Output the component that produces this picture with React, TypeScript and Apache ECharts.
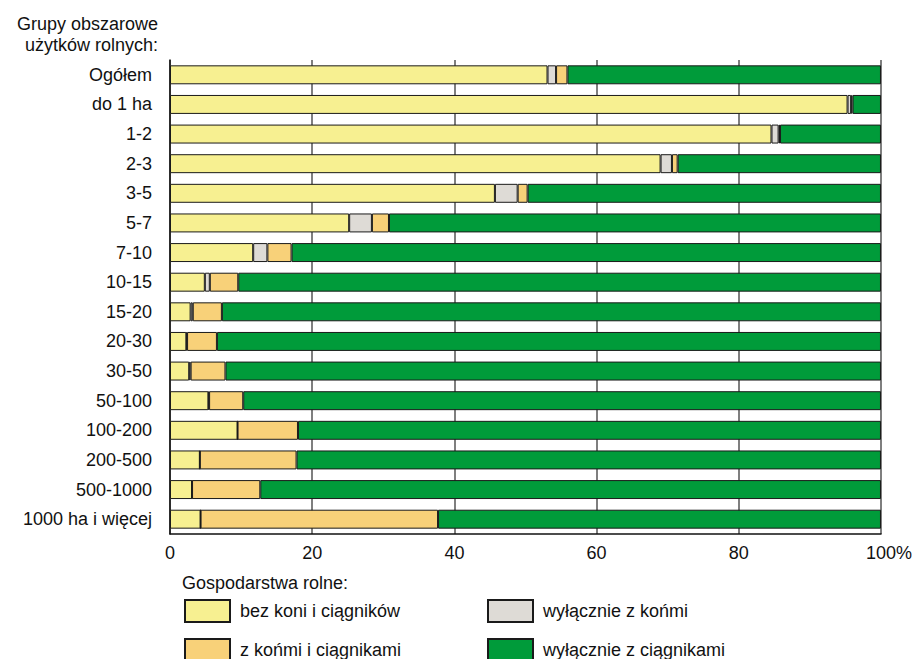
import React, { useEffect, useRef } from "react";
import * as echarts from "echarts";

const categories = [
  "Ogółem", "do 1 ha", "1-2", "2-3", "3-5", "5-7", "7-10", "10-15",
  "15-20", "20-30", "30-50", "50-100", "100-200", "200-500", "500-1000", "1000 ha i więcej",
];
const bezKoni = [53.1, 95.3, 84.6, 69.0, 45.7, 25.2, 11.7, 4.9, 2.9, 2.3, 2.7, 5.4, 9.5, 4.2, 3.1, 4.3];
const tylkoKonie = [1.2, 0.5, 1.0, 1.6, 3.2, 3.2, 2.0, 0.7, 0.3, 0.1, 0.2, 0.1, 0.0, 0.0, 0.0, 0.0];
const konieCiagniki = [1.6, 0.2, 0.2, 0.8, 1.4, 2.4, 3.4, 4.0, 4.1, 4.2, 4.9, 4.8, 8.5, 13.6, 9.6, 33.4];
const tylkoCiagniki = [44.1, 4.0, 14.2, 28.6, 49.7, 69.2, 82.9, 90.4, 92.7, 93.4, 92.2, 89.7, 82.0, 82.2, 87.3, 62.3];
const xTicks = [0, 20, 40, 60, 80, 100];

const seriesNames = [
  "bez koni i ciągników",
  "wyłącznie z końmi",
  "z końmi i ciągnikami",
  "wyłącznie z ciągnikami",
];
const colors = ["#F7F091", "#DEDBD6", "#F8D179", "#009B3A"];
const FONT = "'Liberation Sans', Arial, sans-serif";

// legend placement (left, top) per series
const legendPos: [number, number][] = [
  [184, 599],
  [487, 599],
  [184, 638],
  [487, 638],
];

export default function App() {
  const ref = useRef<HTMLDivElement>(null);
  useEffect(() => {
    if (!ref.current) return;
    const chart = echarts.init(ref.current, null, { renderer: "svg" });
    const data = [bezKoni, tylkoKonie, konieCiagniki, tylkoCiagniki];
    chart.setOption({
      animation: false,
      backgroundColor: "#ffffff",
      textStyle: { fontFamily: FONT, color: "#111" },
      title: [
        {
          text: "Grupy obszarowe\nużytków rolnych:",
          left: 158,
          top: 13,
          padding: 0,
          textAlign: "right",
          textStyle: { fontSize: 18, fontWeight: "normal", color: "#111", fontFamily: FONT, lineHeight: 21 },
        },
        {
          text: "Gospodarstwa rolne:",
          left: 182,
          top: 572,
          padding: 0,
          textStyle: { fontSize: 18, fontWeight: "normal", color: "#111", fontFamily: FONT, lineHeight: 21 },
        },
      ],
      legend: seriesNames.map((name, i) => ({
        left: legendPos[i][0],
        top: legendPos[i][1],
        padding: 0,
        icon: "rect",
        itemWidth: 45,
        itemHeight: 22,
        selectedMode: false,
        data: [name],
        textStyle: { fontSize: 18, color: "#111", fontFamily: FONT, padding: [0, 0, 0, 5] },
      })),
      grid: { left: 170, right: 27, top: 60, bottom: 125, containLabel: false },
      xAxis: {
        type: "value",
        min: xTicks[0],
        max: xTicks[xTicks.length - 1],
        interval: 20,
        axisLine: { show: true, lineStyle: { color: "#111", width: 1.5 } },
        axisTick: { show: false },
        splitLine: { show: true, lineStyle: { color: "#555", width: 1.5 } },
        axisLabel: {
          fontSize: 18,
          color: "#111",
          margin: 10,
          fontFamily: FONT,
          formatter: (v: number) => (v === 100 ? "{p|100%}" : String(v)),
          rich: { p: { fontSize: 18, color: "#111", fontFamily: FONT, padding: [0, 0, 0, 16] } },
        },
      },
      yAxis: {
        type: "category",
        inverse: true,
        data: categories,
        axisLine: { show: true, lineStyle: { color: "#111", width: 1.5 } },
        axisTick: { show: false },
        splitLine: { show: false },
        axisLabel: { fontSize: 18, color: "#111", margin: 18, fontFamily: FONT },
      },
      series: seriesNames.map((name, i) => ({
        name,
        type: "bar",
        stack: "total",
        barCategoryGap: "36%",
        data: data[i],
        itemStyle: { color: colors[i], borderColor: "#1a1a1a", borderWidth: 1 },
        emphasis: { disabled: true },
      })),
    });
    return () => chart.dispose();
  }, []);
  return (
    <div
      ref={ref}
      style={{ position: "absolute", left: 0, top: 0, width: 915, height: 659 }}
    />
  );
}
